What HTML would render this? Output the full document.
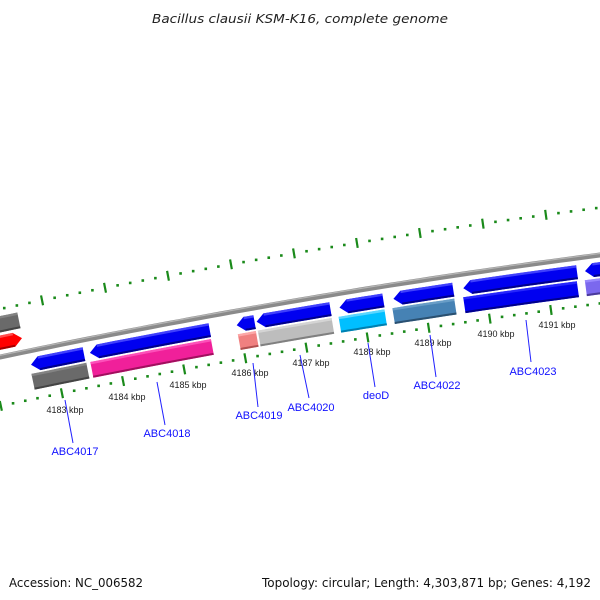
<!DOCTYPE html>
<html><head><meta charset="utf-8"><style>
html,body{margin:0;padding:0;background:#fff}
svg{display:block}
text{font-family:"Liberation Sans",sans-serif}
.dv{font-family:"DejaVu Sans","Liberation Sans",sans-serif}
</style></head><body>
<svg id="s" width="600" height="600" viewBox="0 0 600 600" xmlns="http://www.w3.org/2000/svg">
<g id="g"></g>
<text class="dv" x="152" y="23" font-size="12.5" font-style="italic" fill="#222" textLength="296" lengthAdjust="spacingAndGlyphs">Bacillus clausii KSM-K16, complete genome</text>
<text class="dv" x="9" y="587" font-size="12" fill="#111" textLength="134" lengthAdjust="spacingAndGlyphs">Accession: NC_006582</text>
<text class="dv" x="262" y="587" font-size="12" fill="#111" textLength="329" lengthAdjust="spacingAndGlyphs">Topology: circular; Length: 4,303,871 bp; Genes: 4,192</text>
<g font-size="9" fill="#222" text-anchor="middle">
<text x="65" y="413">4183 kbp</text>
<text x="127" y="400">4184 kbp</text>
<text x="188" y="388">4185 kbp</text>
<text x="250" y="376">4186 kbp</text>
<text x="311" y="366">4187 kbp</text>
<text x="372" y="355">4188 kbp</text>
<text x="433" y="346">4189 kbp</text>
<text x="496" y="337">4190 kbp</text>
<text x="557" y="328">4191 kbp</text>
</g>
<g stroke="#2020ff" stroke-width="1">
<line x1="65" y1="400" x2="73" y2="443"/>
<line x1="157" y1="382" x2="165" y2="425"/>
<line x1="253" y1="363" x2="258" y2="407"/>
<line x1="300" y1="355" x2="309" y2="398"/>
<line x1="368" y1="343" x2="375" y2="387"/>
<line x1="430" y1="335" x2="436" y2="377"/>
<line x1="526" y1="320" x2="531" y2="362"/>
</g>
<g font-size="11" fill="#1010ff" text-anchor="middle">
<text x="75" y="455">ABC4017</text>
<text x="167" y="437">ABC4018</text>
<text x="259" y="419">ABC4019</text>
<text x="311" y="411">ABC4020</text>
<text x="376" y="399">deoD</text>
<text x="437" y="389">ABC4022</text>
<text x="533" y="375">ABC4023</text>
</g>
</svg>
<script>
(function(){
var g=document.getElementById('g'),NS='http://www.w3.org/2000/svg';
function f(x){return 357-0.21*x+6.67e-5*x*x}
function sl(x){return -0.21+1.334e-4*x}
function P(x,d){var s=sl(x),N=Math.sqrt(1+s*s);return [x-s*d/N,f(x)+d/N]}
function par(ix,d){return ix-0.2*d}
function el(t,a){var e=document.createElementNS(NS,t);for(var k in a)e.setAttribute(k,a[k]);g.appendChild(e);return e}
function pts(a){return a.map(function(p){return p[0].toFixed(1)+','+p[1].toFixed(1)}).join(' ')}
var bb=[],bh=[];for(var x=-20;x<=620;x+=10){bb.push(P(x,0));bh.push(P(x,-1.5));}
el('polyline',{points:pts(bb),fill:'none',stroke:'#8a8a8a','stroke-width':5});
el('polyline',{points:pts(bh),fill:'none',stroke:'#b5b5b5','stroke-width':1.2});
function row(d,start,sp){for(var k=-2;k<12;k++){for(var j=0;j<5;j++){var ix=start+sp*k+sp/5*j;var x=par(ix,d);if(x<-10||x>610)continue;
 if(j==0){var a=P(x,d-5),b=P(x,d+5);el('line',{x1:a[0],y1:a[1],x2:b[0],y2:b[1],stroke:'#1a8a1a','stroke-width':2.2});}
 else{var c=P(x,d);el('rect',{x:c[0]-1.3,y:c[1]-1.3,width:2.6,height:2.6,fill:'#1a8a1a'});}}}}
row(-47,42,62.6);row(48,62,61.5);
function shape(ix1,ix2,d,h,fill,arrow,shade,dark){var x1=par(ix1,d),x2=par(ix2,d);var top=[],bot=[];var aw=arrow?8:0;
 var a1=x1+(arrow=='L'?aw:0),a2=x2-(arrow=='R'?aw:0);var n=6;
 for(var i=0;i<=n;i++){var x=a1+(a2-a1)*i/n;top.push(P(x,d-h));bot.push(P(x,d+h));}
 var poly=[];if(arrow=='L')poly.push(P(x1,d));poly=poly.concat(top);if(arrow=='R')poly.push(P(x2,d));poly=poly.concat(bot.reverse());
 el('polygon',{points:pts(poly),fill:fill});
 var hl=[],dk=[];for(var i=0;i<=n;i++){var x=a1+(a2-a1)*i/n;hl.push(P(x,d-h+1.2));}
 el('polyline',{points:pts(hl),fill:'none',stroke:shade,'stroke-width':2.4,'stroke-opacity':0.8});
 for(var i=0;i<=n;i++){var x=a1+(a2-a1)*i/n;dk.push(P(x,d+h-1));}
 el('polyline',{points:pts(dk),fill:'none',stroke:dark,'stroke-width':2});
}
var B='#0000f0',BL='#5050ff',BD='#00008b';
[[31,84],[90,210],[237,255],[257,331],[340,384],[394,454],[464,578],[586,640]].forEach(function(r){shape(r[0],r[1],14,7,B,'L',BL,BD)});
[[33,88,'#6a6a6a','#8a8a8a','#444'],[92,213,'#f0209a','#ff5cc0','#a0105e'],[240,258,'#f08080','#ffb0b0','#b05050'],[260,334,'#bdbdbd','#dadada','#808080'],[341,387,'#00bfff','#70dcff','#0080b0'],[395,457,'#4682b4','#70a4cc','#2a5070'],[466,580,'#0000f0','#3030ff','#00008b'],[588,640,'#7b68ee','#a090ff','#4a3a9a']].forEach(function(r){shape(r[0],r[1],31,8,r[2],null,r[3],r[4])});
shape(-30,19,-32,8,'#6a6a6a',null,'#8a8a8a','#444');
shape(-30,22,-14,7,'#ff0000','R','#ff6060','#a00000');
})();
</script>
</body></html>
